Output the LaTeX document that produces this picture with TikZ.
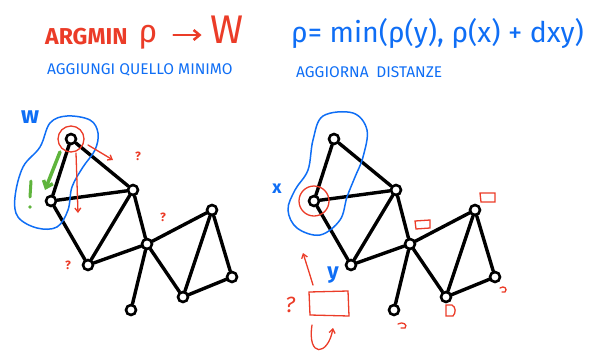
\documentclass[tikz,border=0pt]{standalone}
\usepackage{fontspec}
\setmainfont{Fira Sans}
\usetikzlibrary{arrows.meta}
\definecolor{hred}{RGB}{235,60,40}
\definecolor{hblue}{RGB}{15,110,245}
\definecolor{hgreen}{RGB}{95,180,60}
\begin{document}
\begin{tikzpicture}[x=1pt,y=-1pt,
  vtx/.style={circle,draw=black,line width=2.6pt,fill=white,minimum size=10pt,inner sep=0pt},
  edge/.style={line width=3.4pt,black,line cap=round},
  blob/.style={hblue,line width=1.5pt},
  redline/.style={hred,line width=1.3pt,line cap=round},
  redarrow/.style={redline,-{Straight Barb[length=4pt,width=6pt]}},
  qmark/.style={text=hred,font=\fontsize{12}{12}\selectfont\bfseries,inner sep=0pt},
  lbl/.style={inner sep=0pt,anchor=west}]
\useasboundingbox (0,0) rectangle (589,360);

% ---------- titles ----------
\node[lbl,text=hred,font=\fontsize{23}{23}\selectfont\bfseries] (argmin) at (45,37) {ARGMIN};
\node[inner sep=0pt,text=hred,font=\fontsize{32}{32}\selectfont] (rho) at (148,37) {ρ};
\node[inner sep=0pt,text=hred,font=\fontsize{40}{40}\selectfont] (Wt) at (227,30) {W};
\draw[hred,line width=2.5pt,line cap=round,-{Straight Barb[length=6pt,width=10pt]}] (rho.east) ++(16,-2) coordinate (arS) -- ++(28,0) coordinate (arE);
\node[lbl,text=hblue,font=\fontsize{15.5}{15.5}\selectfont] (sub1) at (47,70) {AGGIUNGI QUELLO MINIMO};

\node[lbl,text=hblue,font=\fontsize{28.5}{28.5}\selectfont] (formula) at (291,33) {ρ= min(ρ(y), ρ(x) + dxy)};
\node[lbl,text=hblue,font=\fontsize{15.5}{15.5}\selectfont] (sub2) at (296,72) {AGGIORNA\enspace DISTANZE};

% ---------- graphs ----------
\foreach \p/\dx in {l/0,r/263}{
  \begin{scope}[xshift=\dx]
    \node[vtx] (\p A) at (71,139) {};
    \node[vtx] (\p B) at (51,201) {};
    \node[vtx] (\p C) at (133,190) {};
    \node[vtx] (\p D) at (88,265) {};
    \node[vtx] (\p E) at (147,244) {};
    \node[vtx] (\p F) at (212,210) {};
    \node[vtx] (\p G) at (232,277) {};
    \node[vtx] (\p H) at (183,297) {};
    \node[vtx] (\p I) at (131,310) {};
  \end{scope}
  \foreach \a/\b in {A/B,A/C,B/C,B/D,D/C,D/E,C/E,E/F,E/H,E/I,F/H,F/G,H/G}{
    \draw[edge] (\p\a) -- (\p\b);
  }
}

% ---------- left annotations ----------
\draw[blob] plot[smooth cycle,tension=0.6] coordinates {(67,116) (90,120) (98,133) (95,150) (83,167) (72,187) (68,210) (57,227) (37,228) (18,217) (15,197) (23,167) (40,147) (50,123)};
\node[inner sep=0pt,text=hblue,font=\fontsize{24}{24}\selectfont\bfseries] (Wl) at (30,117) {w};
\draw[hred,line width=1.3pt] (lA) circle (13);
\draw[redarrow] (lA) ++(17,6) coordinate (r1s) -- (113,160) coordinate (r1e);
\draw[redarrow] (lA) ++(5,14) coordinate (r2s) -- (78,213) coordinate (r2e);
\draw[hgreen,line width=3.5pt,line cap=round,-{Straight Barb[length=6pt,width=10pt]}] (60,152) coordinate (gs) -- (45,190) coordinate (ge);
\draw[hgreen,line width=3pt,line cap=round] (31,181) -- (30,197);
\fill[hgreen] (30,207) circle (1.8);
\node[qmark] (q1) at (138,156) {?};
\node[qmark] (q2) at (163,217) {?};
\node[qmark] (q3) at (68,265) {?};

% ---------- right annotations ----------
\draw[blob] plot[smooth cycle,tension=0.6] coordinates {(323,116) (353,113) (367,130) (363,157) (355,177) (347,197) (340,220) (320,235) (297,228) (288,210) (295,190) (308,170) (313,140)};
\draw[hred,line width=1.3pt] (rB) circle (15);
\node[inner sep=0pt,text=hblue,font=\fontsize{18}{18}\selectfont\bfseries] (xl) at (277,189) {x};
\node[inner sep=0pt,text=hblue,font=\fontsize{22}{22}\selectfont\bfseries] (yl) at (333,275) {y};
\draw[redarrow] (313,285) coordinate (ua) .. controls (309,272) .. (303,253) coordinate (ub);
\draw[redline] (309,292) -- (348,291) -- (349,316) -- (310,315) -- cycle;
\node[text=hred,inner sep=0pt,font=\fontsize{22}{22}\selectfont\itshape] (q4) at (290,305) {?};
\draw[redarrow] (312,325) coordinate (la) .. controls (307,358) and (328,356) .. (333,328) coordinate (lb);
\draw[redline] (415,221) -- (430,220) -- (430,228) -- (416,229) -- cycle;
\draw[redline] (480,193) -- (495,193) -- (495,202) -- (481,202) -- cycle;
\draw[redline] (446,305) -- (446,316) -- (453,316) .. controls (456,313) and (456,307) .. (452,305) -- cycle;
\draw[redline] (500,288) .. controls (504,285) and (508,289) .. (505,292) -- (502,292);
\draw[redline] (398,324) .. controls (403,321) and (408,325) .. (405,328) -- (401,328);
\end{tikzpicture}
\end{document}
